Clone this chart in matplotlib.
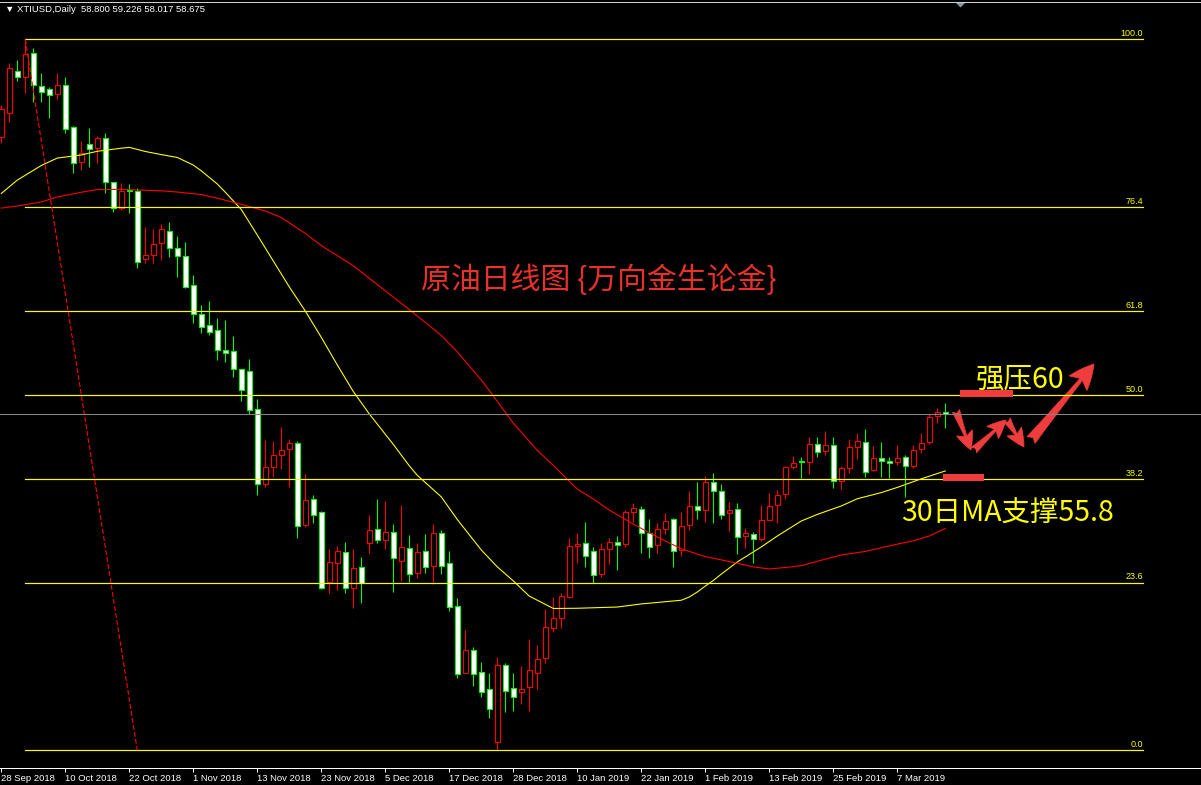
import matplotlib
matplotlib.use("Agg")
import matplotlib.pyplot as plt
from matplotlib.patches import Rectangle, Polygon
from matplotlib.lines import Line2D

plt.rcParams["lines.scale_dashes"] = False

# ---------------- data ----------------
symbol = "XTIUSD,Daily"
header_vals = ["58.800", "59.226", "58.017", "58.675"]

opens = [72.15, 73.32, 75.37, 75.05, 76.22, 74.65, 74.47, 74.23, 74.67, 72.63,
         70.92, 71.80, 71.60, 72.09, 69.95, 68.69, 69.58, 69.53, 66.21, 66.41,
         66.99, 67.57, 66.75, 66.36, 64.95, 63.54, 63.01, 62.76, 61.79, 61.74,
         60.87, 60.77, 58.93, 55.28, 56.11, 56.69, 56.98, 57.27, 53.29, 54.55,
         53.92, 50.55, 51.44, 51.98, 50.23, 51.25, 52.42, 53.10, 52.56, 52.95,
         51.54, 52.17, 50.96, 52.03, 51.30, 52.90, 51.44, 49.36, 46.13, 47.22,
         46.15, 45.32, 42.75, 46.49, 45.37, 45.21, 45.42, 46.10, 46.83, 48.29,
         48.77, 49.79, 52.27, 52.42, 52.03, 50.91, 52.13, 52.47, 52.37, 53.92,
         54.07, 52.90, 52.35, 53.13, 53.58, 52.11, 53.29, 54.21, 54.02, 55.38,
         54.96, 53.87, 54.07, 52.76, 52.85, 52.61, 53.56, 54.26, 54.80, 56.11,
         56.40, 56.35, 57.23, 56.89, 57.18, 55.46, 56.06, 57.08, 57.32, 55.98,
         56.55, 56.40, 56.35, 56.59, 56.16, 56.98, 57.32, 58.59, 58.800]
highs = [73.71, 75.73, 75.89, 76.90, 76.46, 75.25, 74.60, 75.25, 75.05, 72.69,
         71.96, 72.58, 72.20, 72.33, 69.98, 69.90, 69.87, 69.66, 67.77, 67.67,
         67.93, 68.02, 67.34, 67.05, 65.45, 63.99, 64.19, 63.38, 63.26, 62.49,
         60.90, 61.37, 59.43, 57.43, 57.39, 58.05, 57.47, 57.39, 55.78, 54.76,
         53.99, 52.13, 52.29, 52.47, 52.13, 51.74, 53.78, 54.55, 54.46, 53.34,
         54.26, 52.81, 52.42, 52.85, 53.34, 53.06, 52.03, 49.74, 48.20, 47.38,
         46.64, 46.12, 46.88, 46.60, 46.12, 46.46, 47.77, 47.48, 49.22, 49.79,
         49.99, 52.67, 52.90, 53.45, 52.22, 52.42, 52.66, 52.76, 54.03, 54.36,
         54.23, 53.60, 53.39, 53.87, 53.65, 53.92, 54.97, 55.39, 55.69, 55.83,
         55.30, 54.41, 54.36, 53.14, 52.95, 54.26, 54.85, 54.99, 56.16, 56.64,
         56.59, 57.57, 57.57, 57.86, 57.57, 56.17, 57.47, 57.76, 57.95, 57.14,
         57.32, 56.59, 57.18, 56.69, 57.18, 57.76, 58.68, 58.97, 59.226]
lows = [71.86, 72.90, 74.89, 74.28, 73.87, 73.87, 73.06, 73.99, 72.33, 70.42,
        70.55, 70.71, 70.91, 69.42, 68.52, 68.61, 68.48, 65.78, 66.05, 66.05,
        66.18, 66.34, 65.37, 64.83, 63.13, 62.65, 62.54, 61.32, 61.24, 60.51,
        59.34, 58.71, 54.76, 55.17, 55.65, 56.01, 55.17, 52.66, 53.21, 53.42,
        50.20, 49.99, 50.15, 49.99, 49.29, 49.53, 51.96, 52.42, 52.13, 50.06,
        50.60, 50.55, 50.72, 50.96, 50.42, 50.93, 49.14, 45.89, 46.12, 45.50,
        44.96, 43.93, 42.36, 44.24, 44.28, 44.61, 44.28, 45.35, 46.62, 48.12,
        48.32, 49.75, 51.47, 51.28, 50.47, 50.76, 51.40, 51.13, 52.22, 53.43,
        51.96, 51.72, 51.96, 52.85, 51.28, 51.81, 53.08, 53.61, 53.44, 53.39,
        53.58, 53.00, 51.88, 52.20, 51.44, 52.51, 53.53, 53.39, 54.55, 56.01,
        55.57, 55.77, 56.62, 56.72, 55.12, 55.07, 55.82, 56.53, 55.65, 55.91,
        55.62, 55.57, 56.23, 54.68, 56.06, 56.79, 57.23, 58.25, 58.017]
closes = [73.51, 75.49, 75.05, 76.17, 74.68, 74.33, 74.18, 74.67, 72.53, 70.88,
          71.36, 71.56, 72.09, 69.98, 68.69, 69.53, 69.54, 66.07, 66.41, 66.94,
          67.67, 66.75, 66.39, 64.88, 63.54, 62.91, 62.67, 61.79, 61.65, 60.87,
          59.85, 58.88, 55.28, 56.11, 56.69, 56.93, 57.27, 53.26, 54.51, 53.79,
          50.23, 51.49, 52.03, 50.23, 51.20, 50.50, 53.05, 52.56, 52.95, 51.69,
          52.22, 50.91, 51.98, 51.25, 52.90, 51.30, 49.31, 46.05, 47.22, 46.05,
          45.21, 44.35, 46.49, 45.26, 44.96, 45.34, 46.25, 46.78, 48.34, 48.77,
          49.84, 52.27, 52.37, 51.78, 50.86, 52.13, 52.47, 52.32, 53.92, 54.12,
          52.90, 52.25, 53.10, 53.48, 52.03, 53.24, 54.21, 54.02, 55.39, 54.94,
          53.78, 54.02, 52.71, 52.90, 52.61, 53.53, 54.21, 54.75, 56.11, 56.30,
          56.37, 57.23, 56.84, 57.18, 55.46, 56.06, 57.08, 57.37, 55.87, 56.55,
          56.40, 56.30, 56.55, 56.16, 56.93, 57.27, 58.54, 58.78, 58.675]

# yellow moving average (30) sampled at bar indices
ma30_idx = [0, 2, 5, 7, 10, 12, 15, 16, 18, 20, 22, 24, 25, 27, 28, 30, 32, 34, 36, 38,
            40, 42, 44, 46, 49, 51, 52, 55, 57, 60, 62, 64, 66, 69, 72, 77, 80, 85, 86, 87,
            88, 89, 90, 92, 95, 97, 100, 102, 105, 107, 110, 112, 115, 118]
ma30_val = [69.41, 70.06, 70.77, 71.13, 71.28, 71.46, 71.61, 71.65, 71.45, 71.30,
            71.16, 70.79, 70.51, 69.87, 69.47, 68.63, 67.39, 66.13, 64.87, 63.70,
            62.42, 61.08, 59.79, 58.70, 57.22, 56.18, 55.72, 54.67, 53.57, 52.09,
            51.27, 50.59, 49.85, 49.25, 49.26, 49.32, 49.47, 49.65, 49.81, 50.05,
            50.34, 50.61, 50.92, 51.51, 52.24, 52.77, 53.50, 53.82, 54.23, 54.58,
            54.88, 55.13, 55.55, 55.93]
# red (slower) moving average
mared_idx = [0, 2, 5, 7, 10, 12, 15, 17, 20, 22, 25, 27, 30, 33, 35, 38, 40, 44, 48, 51,
             55, 57, 60, 62, 64, 67, 69, 72, 74, 76, 79, 82, 85, 88, 91, 94, 96, 98, 100, 102,
             105, 108, 111, 114, 116, 118]
mared_val = [68.70, 68.80, 69.00, 69.24, 69.47, 69.60, 69.61, 69.58, 69.54, 69.48,
             69.36, 69.18, 68.88, 68.56, 68.24, 67.47, 66.88, 65.90, 64.68, 63.77,
             62.52, 61.71, 60.35, 59.31, 58.25, 56.93, 56.20, 55.05, 54.57, 54.03,
             53.35, 52.72, 52.15, 51.77, 51.53, 51.27, 51.17, 51.24, 51.33, 51.54,
             51.85, 52.02, 52.29, 52.54, 52.77, 53.14]

# Fibonacci retracement
fib_high = 76.90
fib_low = 42.36
fib_anchor_bars = [3, 17]
fib_levels = [0.0, 23.6, 38.2, 50.0, 61.8, 76.4, 100.0]
fib_labels = ["0.0", "23.6", "38.2", "50.0", "61.8", "76.4", "100.0"]

date_labels = ["28 Sep 2018", "10 Oct 2018", "22 Oct 2018", "1 Nov 2018", "13 Nov 2018",
               "23 Nov 2018", "5 Dec 2018", "17 Dec 2018", "28 Dec 2018", "10 Jan 2019",
               "22 Jan 2019", "1 Feb 2019", "13 Feb 2019", "25 Feb 2019", "7 Mar 2019"]
label_every = 8

title_text = "原油日线图 {万向金生论金}"
resist_text = "强压60"
support_text = "30日MA支撑55.8"

# ---------------- styling ----------------
W, H = 1201, 785
PX = 72.0 / 100.0
BULL_EDGE, BULL_FACE = "#ff0000", "#000000"
BEAR_EDGE, BEAR_FACE = "#00ff00", "#ffffff"
FIB_COL = "#ffff00"
ANN_RED = "#f03c3c"
CJK = ["Noto Sans CJK SC", "DejaVu Sans"]
LAT = ["Liberation Sans", "DejaVu Sans"]


def fx(p):
    return p / W


def fy(p):
    return 1 - p / H


fig = plt.figure(figsize=(W / 100, H / 100), dpi=100, facecolor="black")
ax = fig.add_axes([0, 17 / H, 1, 768 / H])
ax.set_facecolor("black")
ax.set_xlim(-0.1625, 149.96)
ax.set_ylim(41.50, 78.809)

# candles
bw = 0.6
for i, (o, h, l, c) in enumerate(zip(opens, highs, lows, closes)):
    up = c > o
    edge = BULL_EDGE if up else BEAR_EDGE
    face = BULL_FACE if up else BEAR_FACE
    ax.vlines(i, l, h, color=edge, lw=PX * 1.1, zorder=2)
    lo, hi = min(o, c), max(o, c)
    ax.add_patch(Rectangle((i - bw / 2, lo), bw, max(hi - lo, 0.0005),
                           facecolor=face, edgecolor=edge, lw=PX * 1.1, zorder=3))

# moving averages
ax.plot(ma30_idx, ma30_val, color="#ffff00", lw=PX * 1.1, zorder=4)
ax.plot(mared_idx, mared_val, color="#ff0000", lw=PX * 1.1, zorder=4)

# fibonacci
fib_end = 142.7
span = fib_high - fib_low
for lev, lab in zip(fib_levels, fib_labels):
    p = fib_low + lev / 100.0 * span
    ax.plot([fib_anchor_bars[0], fib_end], [p, p], color=FIB_COL, lw=PX * 1.2, zorder=5)
    ax.text(fib_end, p + 0.05, lab, color=FIB_COL, fontsize=6.5, family=LAT,
            ha="right", va="bottom", zorder=6)
ax.plot(fib_anchor_bars, [fib_high, fib_low], color="#ff0000", lw=PX * 1.1,
        dashes=(3.5, 1.6), zorder=5)

# bid line
ax.axhline(closes[-1], color="#858585", lw=PX * 1.1, zorder=5)

# axes decoration
for s in ["left", "right", "top"]:
    ax.spines[s].set_visible(False)
ax.spines["bottom"].set_color("white")
ax.spines["bottom"].set_linewidth(PX)
ax.set_yticks([])
tick_pos = list(range(0, len(date_labels) * label_every, label_every))
ax.set_xticks(tick_pos)
ax.set_xticklabels(date_labels, family=LAT, fontsize=6.8, color="white", ha="left")
ax.tick_params(axis="x", direction="out", length=3, width=PX, color="white", pad=1.5)

# header / window bits
fig.text(fx(5), fy(10), "▼ " + symbol + "  " + " ".join(header_vals),
         color="white", fontsize=6.8, family=LAT, ha="left", va="center")
fig.add_artist(Line2D([0, 1], [fy(1.5), fy(1.5)], color="#cfcfcf", lw=PX,
                      transform=fig.transFigure))
fig.add_artist(Polygon([[fx(955.5), fy(2.5)], [fx(965.5), fy(2.5)], [fx(960.5), fy(7.5)]],
                       closed=True, facecolor="#8c96a0", edgecolor="none",
                       transform=fig.transFigure))

# annotations
fig.text(fx(421), fy(281), title_text, color="#e8302c", fontsize=21.5, family=CJK,
         ha="left", va="center")
fig.text(fx(976), fy(380), resist_text, color="#ffff00", fontsize=20.5, family=CJK,
         ha="left", va="center")
fig.text(fx(901), fy(514), support_text, color="#ffff00", fontsize=20.5, family=CJK,
         ha="left", va="center")

fig.add_artist(Rectangle((fx(960), fy(396.7)), (1013 - 960) / W, 6.7 / H,
                         facecolor=ANN_RED, edgecolor="none", transform=fig.transFigure))
fig.add_artist(Rectangle((fx(943), fy(480.7)), (984 - 943) / W, 6.7 / H,
                         facecolor=ANN_RED, edgecolor="none", transform=fig.transFigure))

arrows = [
    ((956, 411), (971, 450), 11),
    ((974, 450), (1006, 420), 11),
    ((1007, 420), (1024, 447), 11),
    ((1031, 440), (1094, 364), 15),
]
for (tx, ty), (hx, hy), ms in arrows:
    ax.annotate("", xy=(fx(hx), fy(hy)), xytext=(fx(tx), fy(ty)),
                xycoords="figure fraction", textcoords="figure fraction",
                arrowprops=dict(arrowstyle="fancy,head_length=1.2,head_width=1.1,tail_width=0.5",
                                facecolor=ANN_RED, edgecolor=ANN_RED, lw=0.5,
                                mutation_scale=ms, shrinkA=0, shrinkB=0))

fig.savefig("out.png", dpi=100, facecolor="black")
